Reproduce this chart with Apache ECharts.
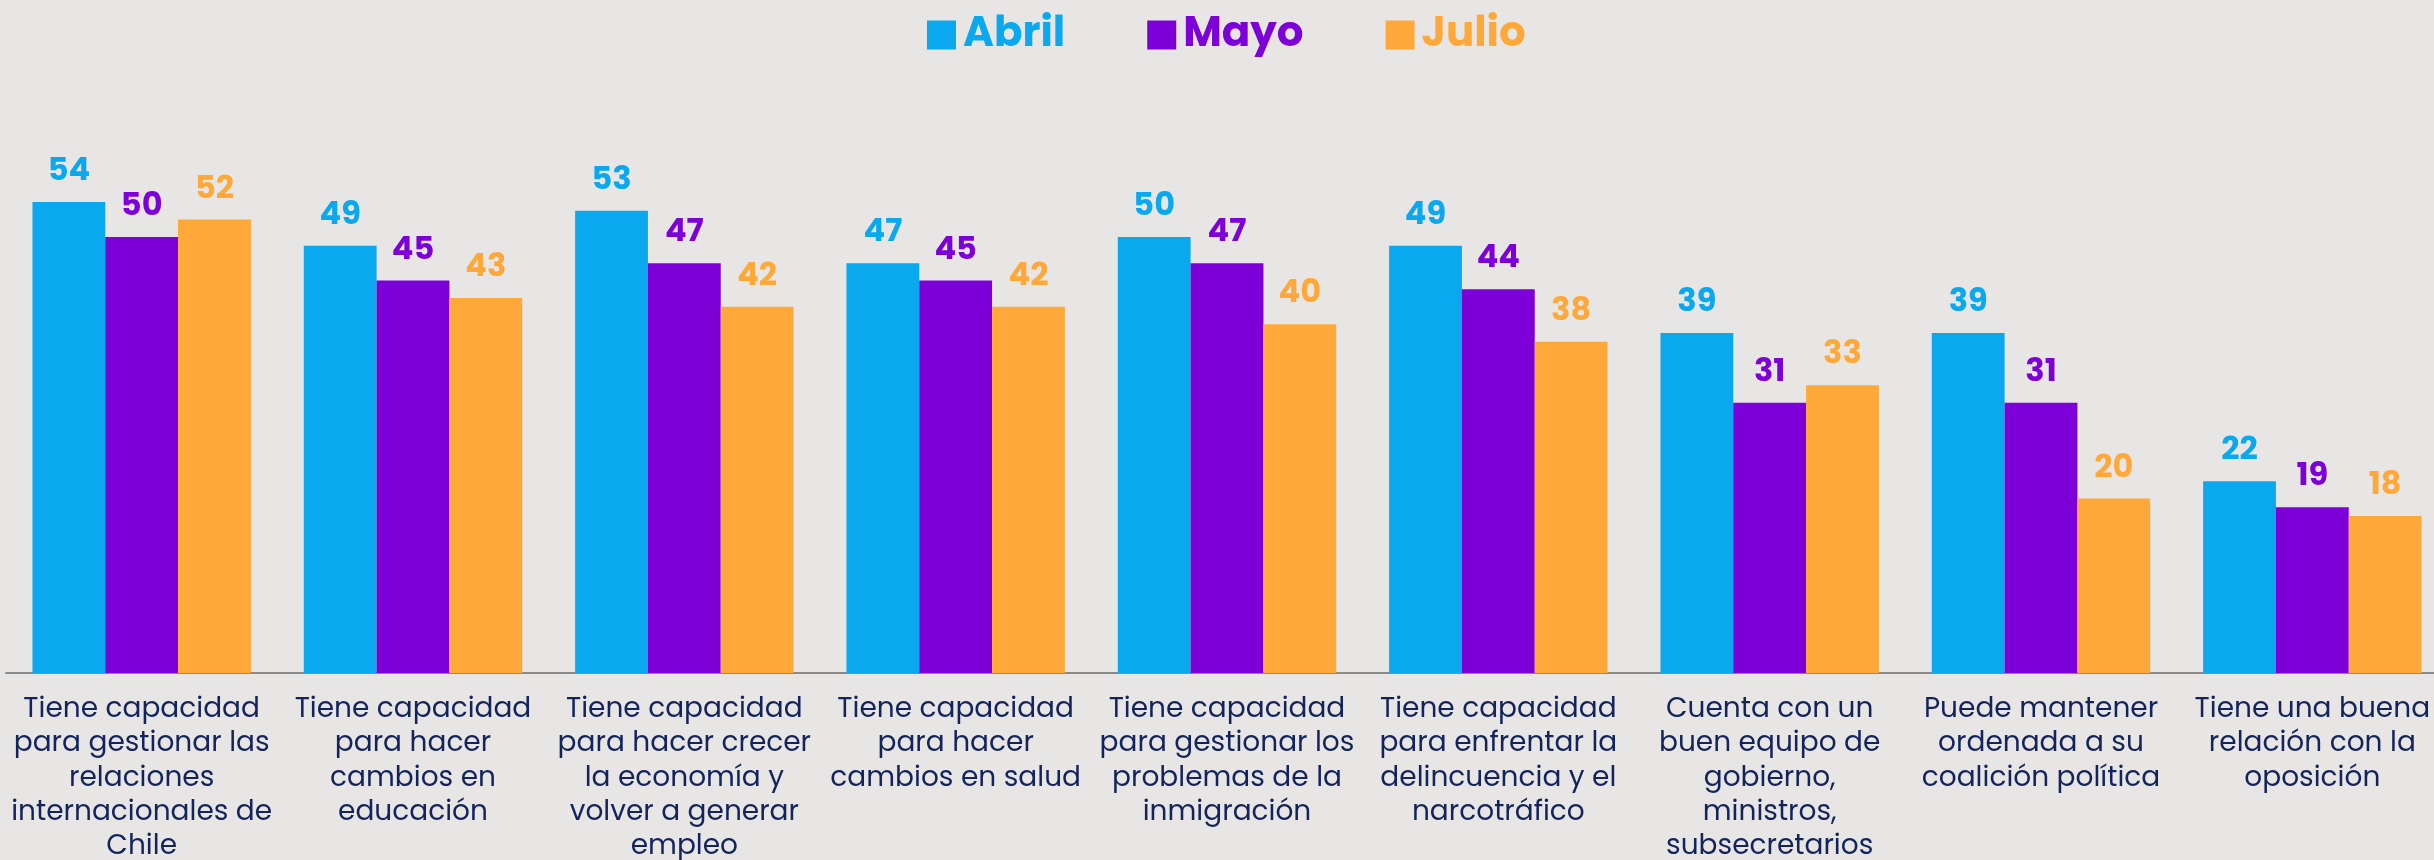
<!DOCTYPE html>
<html>
<head>
<meta charset="utf-8">
<script src="https://cdn.jsdelivr.net/npm/echarts@6/dist/echarts.min.js"></script>
<style>
html,body{margin:0;padding:0;background:#E8E6E4;}
#chart{width:2434px;height:860px;}
</style>
</head>
<body>
<div id="chart"></div>
<script>
const categories = [
  "Tiene capacidad\npara gestionar las\nrelaciones\ninternacionales de\nChile",
  "Tiene capacidad\npara hacer\ncambios en\neducación",
  "Tiene capacidad\npara hacer crecer\nla economía y\nvolver a generar\nempleo",
  "Tiene capacidad\npara hacer\ncambios en salud",
  "Tiene capacidad\npara gestionar los\nproblemas de la\ninmigración",
  "Tiene capacidad\npara enfrentar la\ndelincuencia y el\nnarcotráfico",
  "Cuenta con un\nbuen equipo de\ngobierno,\nministros,\nsubsecretarios",
  "Puede mantener\nordenada a su\ncoalición política",
  "Tiene una buena\nrelación con la\noposición"
];
const seriesNames = ["Abril", "Mayo", "Julio"];
const abril = [54, 49, 53, 47, 50, 49, 39, 39, 22];
const mayo  = [50, 45, 47, 45, 47, 44, 31, 31, 19];
const julio = [52, 43, 42, 42, 40, 38, 33, 20, 18];
const colors = ["#0AA8EE", "#7E00D9", "#FFA83A"];

const FONT = "Poppins, 'Open Sans', Lato, sans-serif";
const chart = echarts.init(document.getElementById('chart'));
const values = [abril, mayo, julio];
chart.setOption({
  backgroundColor: '#E8E6E4',
  animation: false,
  legend: {
    left: 922, top: 9,
    itemWidth: 29, itemHeight: 29, itemGap: 82,
    icon: 'rect',
    textStyle: { fontSize: 42, fontWeight: 'bold', fontFamily: FONT, padding: [0, 0, 0, 2] },
    data: seriesNames.map((n, i) => ({ name: n, textStyle: { color: colors[i] } }))
  },
  grid: { left: 6, top: 149.8, width: 2442, height: 523.2, containLabel: false, outerBoundsMode: 'none' },
  xAxis: {
    type: 'category',
    data: categories,
    axisLine: { lineStyle: { color: '#8A8A8A', width: 2 } },
    axisTick: { show: false },
    axisLabel: {
      interval: 0, margin: 20,
      color: '#13245C', fontSize: 28, lineHeight: 34.2, fontFamily: FONT, align: 'center'
    }
  },
  yAxis: { type: 'value', min: 0, max: 60, show: false, splitLine: { show: false } },
  series: seriesNames.map((n, i) => ({
    name: n, type: 'bar', data: values[i],
    barGap: '0%', barCategoryGap: '19.5%',
    itemStyle: { color: colors[i] },
    label: {
      show: true, position: 'top', distance: 14,
      color: colors[i], fontSize: 32, fontWeight: 'bold', fontFamily: FONT
    }
  }))
});
</script>
</body>
</html>
